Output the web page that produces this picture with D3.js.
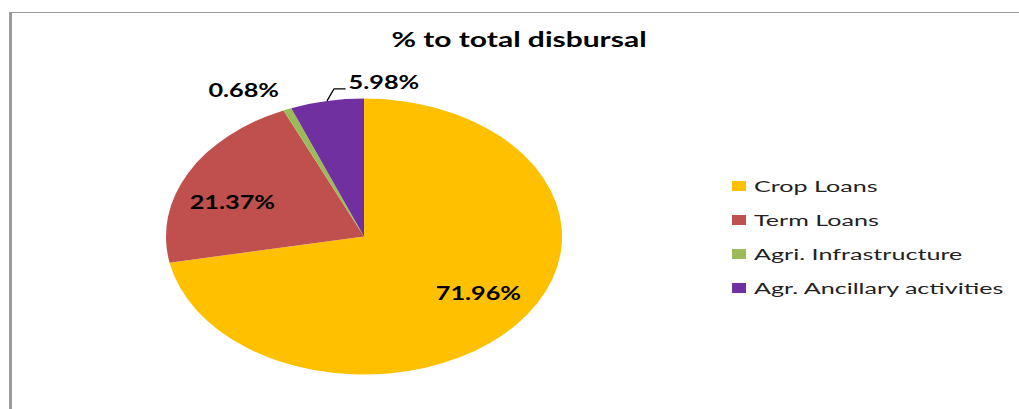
<!DOCTYPE html>
<html>
<head>
<title>% to total disbursal</title>
<script src="https://d3js.org/d3.v7.min.js"></script>
<style>
body { margin: 0; background: #fff; }
text { font-family: Lato, "Open Sans", sans-serif; }
</style>
</head>
<body>
<script>

// data
var categories = ["Crop Loans", "Term Loans", "Agri. Infrastructure", "Agr. Ancillary activities"];
var shares = [71.96, 21.37, 0.68, 5.98];
var shareLabels = ["71.96%", "21.37%", "0.68%", "5.98%"];
var colors = ["#FFC000", "#C0504D", "#9BBB59", "#7030A0"];

var W = 1019, H = 409;
var cx = 364, cy = 236.5, R = 138, S = 1.435;   // pie is stretched sideways in the picture

// where each label goes: radius factor and angle shift (deg) from slice middle
var placement = [
	{rf: 0.71, shift: -4},
	{rf: 0.71, shift: -7},
	{rf: 1.224, shift: -7},
	{rf: 1.124, shift: 15.9, leader: {rf: 1.08, shift: 2.7}}
];

var svg = d3.select("body").append("svg").attr("width", W).attr("height", H);

// chart frame
svg.append("path")
	.attr("d", "M10.5," + H + "V12.5H" + W)
	.attr("fill", "none")
	.attr("stroke", "#9a9a9a")
	.attr("stroke-width", 1);
svg.append("line")
	.attr("x1", 10.5).attr("x2", 10.5).attr("y1", 12).attr("y2", H)
	.attr("stroke", "#9a9a9a").attr("stroke-width", 3);

svg.append("text")
	.attr("transform", "translate(519,47) scale(1.5,1)")
	.attr("text-anchor", "middle")
	.style("font-size", "20px")
	.style("font-weight", "bold")
	.style("fill", "#000")
	.text("% to total disbursal");

var pie = d3.pie().sort(null).value(function(d){ return d; });
var arcs = pie(shares);
var arc = d3.arc().innerRadius(0).outerRadius(R);

var pieG = svg.append("g").attr("transform", "translate(" + cx + "," + cy + ") scale(" + S + ",1)");
pieG.selectAll("path")
	.data(arcs)
	.enter()
	.append("path")
	.attr("d", arc)
	.attr("fill", function(d, i){ return colors[i]; });

function polar(r, a){
	// a in radians, 0 = 12 o'clock, clockwise; returns screen offset
	return [Math.sin(a) * r * S, -Math.cos(a) * r];
}

var LS = 1.33;
var labG = svg.append("g").attr("transform", "translate(" + cx + "," + cy + ")");
arcs.forEach(function(d, i){
	var p = placement[i];
	var mid = (d.startAngle + d.endAngle) / 2;
	var pos = polar(R * p.rf, mid + p.shift * Math.PI / 180);
	var t = labG.append("text")
		.attr("transform", "translate(" + pos[0] + "," + pos[1] + ") scale(" + LS + ",1)")
		.attr("text-anchor", "middle")
		.attr("dy", "0.36em")
		.style("font-size", "19px")
		.style("font-weight", "bold")
		.style("fill", "#000")
		.text(shareLabels[i]);
	if (p.leader){
		var w = t.node().getComputedTextLength() * LS;
		var a0 = polar(R, mid);
		var a1 = polar(R * p.leader.rf, mid + p.leader.shift * Math.PI / 180);
		var a2 = [pos[0] - w / 2 - 3, a1[1]];
		labG.append("path")
			.attr("d", d3.line()([a0, a1, a2]))
			.attr("fill", "none")
			.attr("stroke", "#000")
			.attr("stroke-width", 1.3);
	}
});

// legend
var ly = d3.scalePoint().domain(categories).range([186, 288]);
var leg = svg.append("g").selectAll("g")
	.data(categories)
	.enter()
	.append("g")
	.attr("transform", function(d){ return "translate(732," + ly(d) + ")"; });
leg.append("rect")
	.attr("x", 0).attr("y", -5)
	.attr("width", 14).attr("height", 10)
	.attr("fill", function(d, i){ return colors[i]; });
leg.append("text")
	.attr("transform", "translate(22,0) scale(1.57,1)")
	.attr("dy", "0.36em")
	.style("font-size", "16px")
	.style("fill", "#222")
	.text(function(d){ return d; });

</script>
</body>
</html>
